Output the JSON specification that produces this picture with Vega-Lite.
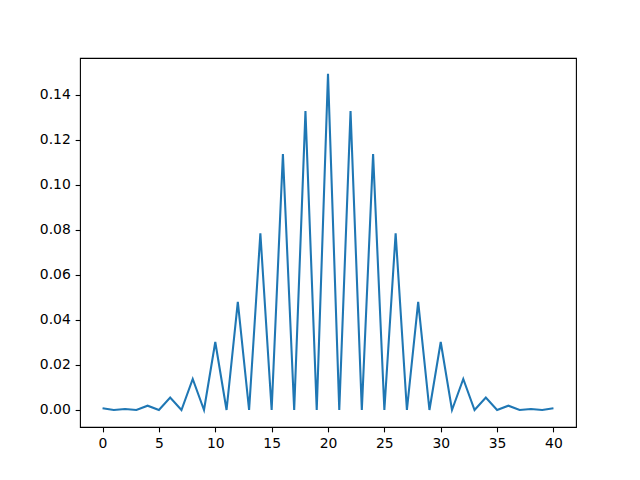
{
  "$schema": "https://vega.github.io/schema/vega-lite/v6.json",
  "width": 496,
  "height": 369,
  "autosize": {"type": "none"},
  "padding": {"left": 80, "top": 58, "right": 64, "bottom": 53},
  "background": "white",
  "config": {
    "view": {"stroke": "black", "strokeWidth": 1.1},
    "axis": {
      "grid": false,
      "domain": false,
      "tickColor": "black",
      "tickSize": 4.86,
      "tickWidth": 1.1,
      "labelFont": "DejaVu Sans",
      "labelFontSize": 13.9,
      "labelColor": "black",
      "labelPadding": 4.86,
      "title": null
    }
  },
  "data": {
    "values": [
      {"x": 0, "y": 0.00076}, {"x": 1, "y": 0.0}, {"x": 2, "y": 0.0004}, {"x": 3, "y": 0.0},
      {"x": 4, "y": 0.0019}, {"x": 5, "y": 0.0}, {"x": 6, "y": 0.0055}, {"x": 7, "y": 0.0},
      {"x": 8, "y": 0.0138}, {"x": 9, "y": 0.0}, {"x": 10, "y": 0.0302}, {"x": 11, "y": 0.0},
      {"x": 12, "y": 0.048}, {"x": 13, "y": 0.0}, {"x": 14, "y": 0.0785}, {"x": 15, "y": 0.0},
      {"x": 16, "y": 0.1137}, {"x": 17, "y": 0.0}, {"x": 18, "y": 0.1328}, {"x": 19, "y": 0.0},
      {"x": 20, "y": 0.1494}, {"x": 21, "y": 0.0}, {"x": 22, "y": 0.1328}, {"x": 23, "y": 0.0},
      {"x": 24, "y": 0.1137}, {"x": 25, "y": 0.0}, {"x": 26, "y": 0.0785}, {"x": 27, "y": 0.0},
      {"x": 28, "y": 0.048}, {"x": 29, "y": 0.0}, {"x": 30, "y": 0.0302}, {"x": 31, "y": 0.0},
      {"x": 32, "y": 0.0138}, {"x": 33, "y": 0.0}, {"x": 34, "y": 0.0055}, {"x": 35, "y": 0.0},
      {"x": 36, "y": 0.0019}, {"x": 37, "y": 0.0}, {"x": 38, "y": 0.0004}, {"x": 39, "y": 0.0},
      {"x": 40, "y": 0.00076}
    ]
  },
  "mark": {"type": "line", "color": "#1f77b4", "strokeWidth": 2.08, "clip": true},
  "encoding": {
    "x": {
      "field": "x", "type": "quantitative",
      "scale": {"domain": [-2, 42], "nice": false, "zero": false},
      "axis": {"values": [0, 5, 10, 15, 20, 25, 30, 35, 40], "format": "d"}
    },
    "y": {
      "field": "y", "type": "quantitative",
      "scale": {"domain": [-0.00756, 0.1564], "nice": false, "zero": false},
      "axis": {"values": [0, 0.02, 0.04, 0.06, 0.08, 0.1, 0.12, 0.14], "format": ".2f"}
    }
  }
}
